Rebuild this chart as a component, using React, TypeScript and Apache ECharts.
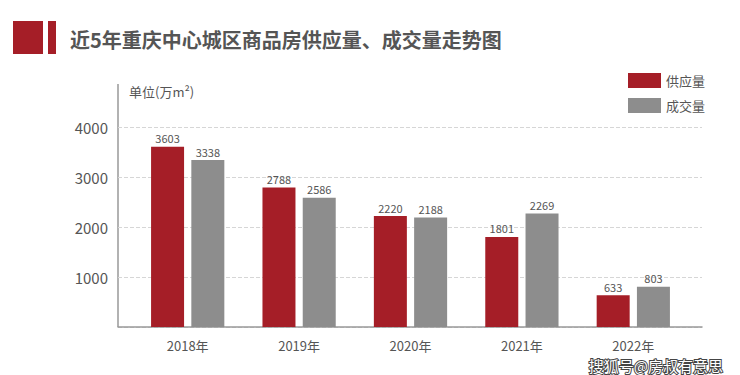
import React, { useEffect, useRef } from "react";
import * as echarts from "echarts";

const categories = ["2018年", "2019年", "2020年", "2021年", "2022年"];
const supply = [3603, 2788, 2220, 1801, 633];
const deals = [3338, 2586, 2188, 2269, 803];
const seriesNames = ["供应量", "成交量"];
const titleText = "近5年重庆中心城区商品房供应量、成交量走势图";
const unitText = "单位(万m²)";
const watermark = "搜狐号@房叔有意思";

const FONT = "'Noto Sans CJK SC', 'Noto Sans', sans-serif";
const RED = "#a51e27";
const GREY = "#8d8d8d";
const TXT = "#555555";

export default function App() {
  const ref = useRef<HTMLDivElement>(null);
  useEffect(() => {
    if (!ref.current) return;
    const chart = echarts.init(ref.current, undefined, { renderer: "svg" });
    const labelStyle = { show: true, position: "top", color: TXT, fontSize: 11, fontFamily: FONT, distance: 3 };
    chart.setOption({
      animation: false,
      backgroundColor: "#ffffff",
      textStyle: { fontFamily: FONT },
      grid: [
        { left: 132, right: 51, top: 127, bottom: 48 },
        { left: 118, right: 38, top: 127, bottom: 48 },
      ],
      legend: {
        orient: "vertical",
        left: 623,
        top: 68,
        itemWidth: 33,
        itemHeight: 15,
        itemGap: 10,
        icon: "rect",
        textStyle: { color: TXT, fontSize: 13, fontFamily: FONT },
        data: seriesNames,
      },
      xAxis: [
        {
          type: "category",
          gridIndex: 0,
          data: categories,
          axisLine: { show: false },
          axisTick: { show: false },
          axisLabel: { color: TXT, fontSize: 13, margin: 12, fontFamily: FONT },
        },
        {
          type: "value",
          gridIndex: 1,
          min: 0,
          max: 1,
          axisLine: { show: true, lineStyle: { color: "#999", width: 1.5 } },
          axisTick: { show: false },
          axisLabel: { show: false },
          splitLine: { show: false },
        },
      ],
      yAxis: [
        {
          type: "value",
          gridIndex: 0,
          min: 0,
          max: 4000,
          interval: 1000,
          axisLine: { show: false },
          axisTick: { show: false },
          axisLabel: { show: false },
          splitLine: { show: false },
        },
        {
          type: "value",
          gridIndex: 1,
          min: 0,
          max: 4000,
          interval: 1000,
          axisLine: { show: false },
          axisTick: { show: false },
          axisLabel: {
            color: TXT,
            fontSize: 15,
            margin: 10,
            fontFamily: FONT,
            formatter: (v: number) => (v === 0 ? "" : String(v)),
          },
          splitLine: { show: true, lineStyle: { color: "#d6d6d6", type: "dashed", width: 1 } },
        },
      ],
      series: [
        {
          name: seriesNames[0],
          type: "bar",
          xAxisIndex: 0,
          yAxisIndex: 0,
          data: supply,
          barWidth: 33,
          barGap: "22%",
          itemStyle: { color: RED },
          label: labelStyle,
        },
        {
          name: seriesNames[1],
          type: "bar",
          xAxisIndex: 0,
          yAxisIndex: 0,
          data: deals,
          barWidth: 33,
          barGap: "22%",
          itemStyle: { color: GREY },
          label: labelStyle,
        },
      ],
      graphic: [
        { type: "rect", shape: { x: 13, y: 21, width: 30, height: 33 }, style: { fill: RED } },
        { type: "rect", shape: { x: 48, y: 21, width: 8, height: 33 }, style: { fill: RED } },
        {
          type: "text",
          x: 70,
          y: 39,
          style: {
            text: titleText,
            fill: TXT,
            fontSize: 20,
            fontWeight: "bold",
            fontFamily: FONT,
            verticalAlign: "middle",
          },
        },
        { type: "line", shape: { x1: 118, y1: 84, x2: 118, y2: 327 }, style: { stroke: "#999", lineWidth: 1.5 } },
        {
          type: "text",
          x: 129,
          y: 91,
          style: { text: unitText, fill: TXT, fontSize: 13, fontFamily: FONT, verticalAlign: "middle" },
        },
        {
          type: "text",
          x: 723,
          y: 365,
          style: {
            text: watermark,
            fill: "#ffffff",
            fontSize: 15,
            fontFamily: FONT,
            align: "right",
            verticalAlign: "middle",
            stroke: "#444",
            lineWidth: 2,
          },
        },
      ],
    });
    return () => chart.dispose();
  }, []);
  return <div ref={ref} style={{ width: 740, height: 375, position: "absolute", left: 0, top: 0 }} />;
}
